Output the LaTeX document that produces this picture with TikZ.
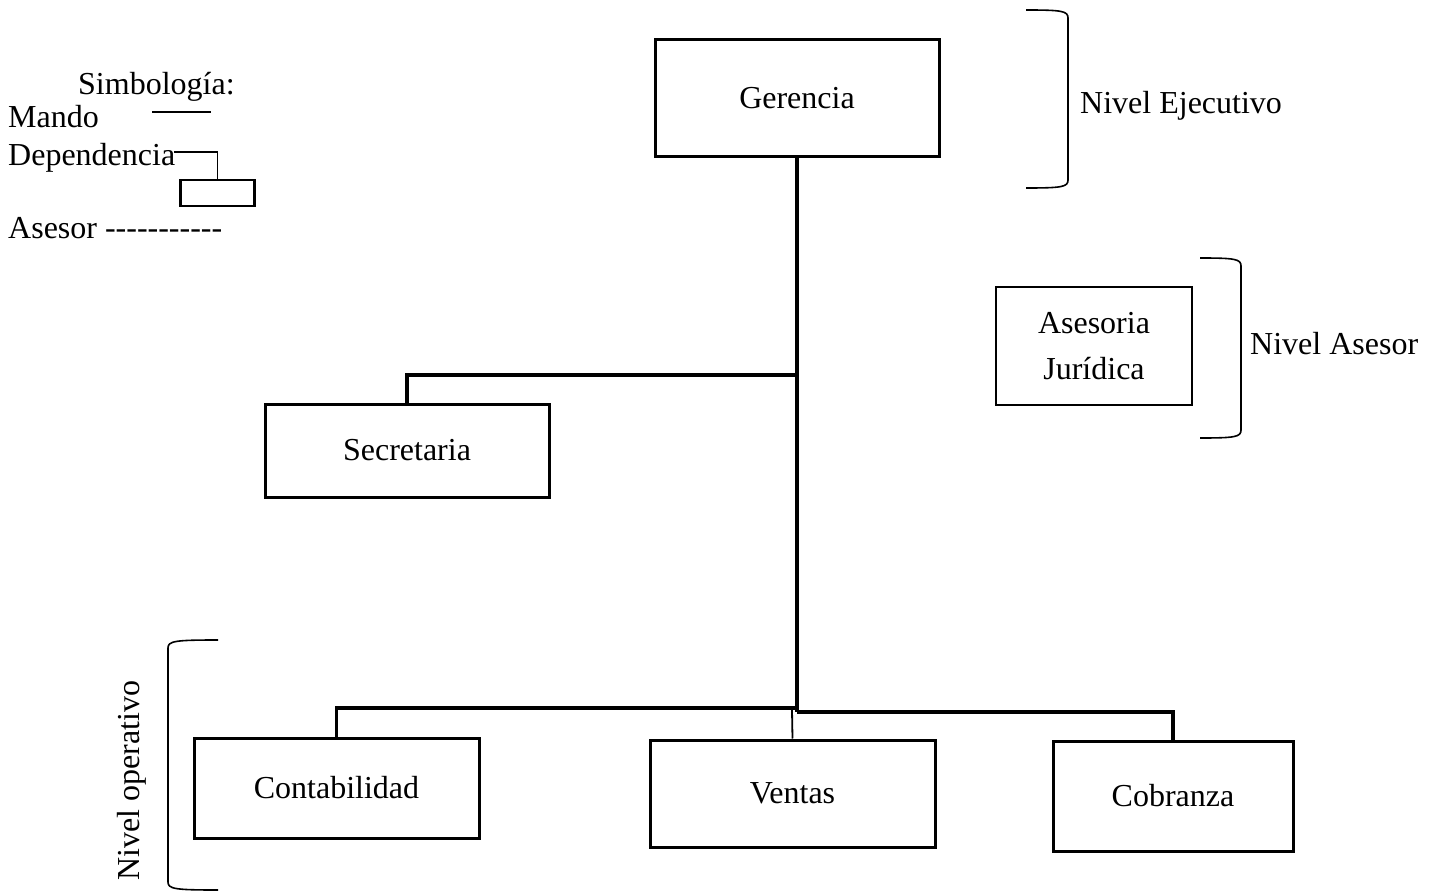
\documentclass[tikz,border=0pt]{standalone}
\usepackage{fontspec}
\setmainfont{Liberation Serif}
\begin{document}
\begin{tikzpicture}[x=1pt,y=-1pt,
  every node/.style={font=\fontsize{32}{46}\selectfont},
  unit/.style={draw,line width=3pt,minimum width=#1,inner sep=0pt},
  link/.style={line width=3.2pt},
  thinlink/.style={line width=1.8pt},
  brace/.style={line width=1.6pt},
  lbl/.style={anchor=base west,inner sep=0pt}]
\useasboundingbox (0,0) rectangle (1435,893);
\def\hy{-\kern0pt}

% organisation units
\node[unit=284pt,minimum height=117pt] (ger) at (797,98.5) {Gerencia};
\node[unit=196pt,minimum height=118pt,align=center,line width=2.4pt] (ase) at (1094,346) {Asesoria\\Jurídica};
\node[unit=284pt,minimum height=93pt] (sec) at (407,450.5) {Secretaria};
\node[unit=285pt,minimum height=100pt] (con) at (336.5,788) {Contabilidad};
\node[unit=285pt,minimum height=107pt] (ven) at (792.5,793.5) {Ventas};
\node[unit=240pt,minimum height=110pt] (cob) at (1173,796) {Cobranza};

% junctions on the main line
\coordinate (jsec) at (797,375);
\coordinate (jbot) at (797,712);
\coordinate (jcon) at (797,708);
\coordinate (jven) at (792,710);

% line of command
\draw[link] (ger.south) -- (jbot);
\draw[link] (sec.north) -- (sec.north |- jsec) -- (jsec);
\draw[link] (con.north) -- (con.north |- jcon) -- (jcon);
\draw[link] (jbot) -- (cob.north |- jbot) -- (cob.north);
\draw[thinlink] (jven) -- (ven.north);

% level brackets
\draw[brace] (1026,10) .. controls (1062,10) and (1068,11) .. (1068,18) -- (1068,180)
  .. controls (1068,187) and (1062,188) .. (1026,188);
\draw[brace] (1200,258) .. controls (1235,258) and (1241,259) .. (1241,266) -- (1241,430)
  .. controls (1241,437) and (1235,438) .. (1200,438);
\draw[brace] (218,640) .. controls (175,640) and (168,641) .. (168,648) -- (168,882)
  .. controls (168,889) and (175,890) .. (218,890);

\node[lbl] (nej) at (1080,114) {Nivel Ejecutivo};
\node[lbl] (nas) at (1250,354) {Nivel Asesor};
\node[lbl,rotate=90] (nop) at (139,881) {Nivel operativo};

% legend
\node[lbl] (sim) at (78,95) {Simbología:};
\node[lbl] (man) at (8,128) {Mando};
\node[lbl] (dep) at (8,166) {Dependencia};
\node[lbl] (asr) at (8,239) {Asesor \hy\hy\hy\hy\hy\hy\hy\hy\hy\hy-};
\coordinate (m1) at (152,112);
\coordinate (m2) at (211,112);
\draw[line width=1.4pt] (m1) -- (m2);
\node[draw,line width=2.6pt,minimum width=74pt,minimum height=26pt,inner sep=0pt] (dbox) at (217.5,193) {};
\coordinate (d1) at (174,152);
\draw[line width=1.4pt] (d1) -- (dbox.north |- d1) -- (dbox.north);
\end{tikzpicture}
\end{document}
